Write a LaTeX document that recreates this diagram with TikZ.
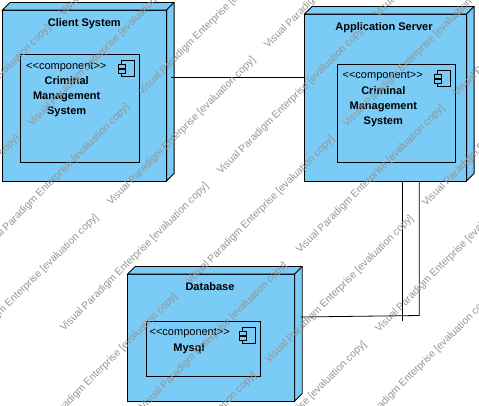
\documentclass[tikz,border=0pt]{standalone}
\usepackage{fontspec}
\setmainfont{Liberation Sans}
\usetikzlibrary{calc}

\definecolor{nodeblue}{HTML}{7ACBF5}

\tikzset{
  cubefront/.style={draw=black,fill=nodeblue,line width=0.9pt,inner sep=0pt,outer sep=0pt},
  cubeside/.style={draw=black,fill=nodeblue,line width=0.9pt,line join=miter},
  compbox/.style={draw=black,line width=0.9pt,inner sep=0pt,outer sep=0pt},
  titletext/.style={font=\fontsize{11}{13}\selectfont\bfseries,inner sep=0pt},
  stereotext/.style={font=\fontsize{11}{13}\selectfont,inner sep=0pt},
  nametext/.style={font=\fontsize{11}{15}\selectfont\bfseries,align=center,inner sep=0pt},
  link/.style={draw=black,line width=0.8pt},
  watermark/.style={font=\fontsize{10.3}{12}\selectfont,text=black!42,rotate=45,anchor=west,inner sep=0pt},
}

% top and side faces of a node box
\newcommand{\cubefaces}[2]{
  \draw[cubeside] (#1.north west) -- ++(#2,-#2) -- ($(#1.north east)+(#2,-#2)$)
    -- ($(#1.south east)+(#2,-#2)$) -- (#1.south east) -- (#1.north east) -- cycle;
  \draw[cubeside] (#1.north east) -- ++(#2,-#2);
}
% small component icon in the corner of a component box
\newcommand{\compicon}[1]{
  \draw[compbox] ($(#1.north east)+(-18,6)$) rectangle ($(#1.north east)+(-5,22)$);
  \draw[compbox,fill=nodeblue] ($(#1.north east)+(-21,10)$) rectangle ($(#1.north east)+(-14,14)$);
  \draw[compbox,fill=nodeblue] ($(#1.north east)+(-21,15)$) rectangle ($(#1.north east)+(-14,19)$);
}
\newcommand{\stereoword}{<{}<{}component>{}>}

\begin{document}
\begin{tikzpicture}[x=1pt,y=-1pt]
  \useasboundingbox (0,0) rectangle (479,405);

  % Client System
  \node[cubefront,minimum width=164pt,minimum height=171pt] (client) at (84.6,95.5) {};
  \cubefaces{client}{7.5}
  \node[titletext] (clienttitle) at (84.3,23.3) {Client System};
  \node[compbox,minimum width=119pt,minimum height=108pt] (clientcomp) at (80,108) {};
  \compicon{clientcomp}
  \node[stereotext] (clientstereo) at (66.3,66.7) {\stereoword};
  \node[nametext] (clientname) at (66.7,96.5) {Criminal\\Management\\System};

  % Application Server
  \node[cubefront,minimum width=162pt,minimum height=167pt] (app) at (385.6,97.5) {};
  \cubefaces{app}{7.5}
  \node[titletext] (apptitle) at (384,27.3) {Application Server};
  \node[compbox,minimum width=118pt,minimum height=98pt] (appcomp) at (396,113) {};
  \compicon{appcomp}
  \node[stereotext] (appstereo) at (382.7,76.3) {\stereoword};
  \node[nametext] (appname) at (383.3,106.5) {Criminal\\Management\\System};

  % Database
  \node[cubefront,minimum width=167pt,minimum height=127pt] (db) at (211.2,337.5) {};
  \cubefaces{db}{7.5}
  \node[titletext] (dbtitle) at (210,286.3) {Database};
  \node[compbox,minimum width=114pt,minimum height=55pt] (dbcomp) at (203.7,348.5) {};
  \compicon{dbcomp}
  \node[stereotext] (dbstereo) at (189.7,333) {\stereoword};
  \node[nametext] (dbname) at (189,348.3) {Mysql};

  % connectors
  \coordinate (clientend) at (171,77.5);
  \coordinate (linkinner) at (402.3,321);
  \coordinate (linkouter) at (419.3,315.5);
  \coordinate (dbend) at (300.7,317);
  \draw[link] (clientend) -- (clientend -| app.west);
  \draw[link] (linkinner |- app.south) -- (linkinner);
  \draw[link] (linkouter |- app.south) -- (linkouter) -- (dbend);

  % evaluation watermark, drawn last
  \foreach \P in {(-96,172),(61,15),(-127,282),(30,125),(187,-32),(-17,251),(140,94),
                  (-48,361),(109,204),(266,47),(62,330),(219,173),(376,16),
                  (31,440),(188,283),(345,126),(141,409),(298,252),(455,95),
                  (110,519),(267,362),(424,205),(220,488),(377,331),(346,441)} {
    \node[watermark] at \P {Visual Paradigm Enterprise [evaluation copy]};
  }
\end{tikzpicture}
\end{document}
